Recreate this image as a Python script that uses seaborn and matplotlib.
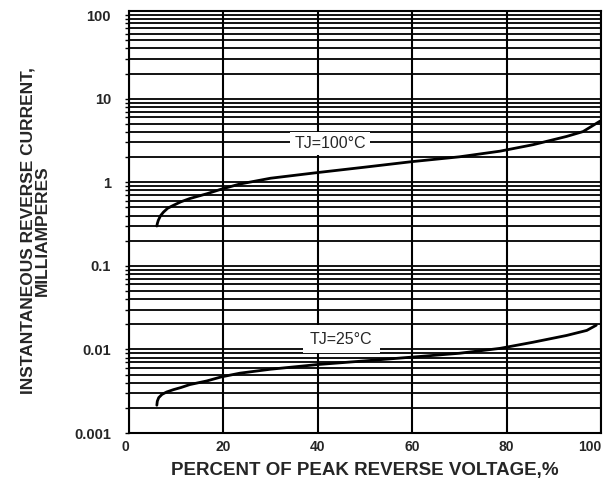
import numpy as np
import pandas as pd
import seaborn as sns
import matplotlib
matplotlib.use("Agg")
import matplotlib.pyplot as plt
from matplotlib.ticker import FixedLocator, FixedFormatter, LogLocator, NullFormatter

# Reverse leakage current vs. percent of peak reverse voltage
pct_100c = [5.9, 6.0, 6.2, 6.7, 7.3, 8.2, 9.4, 11, 12.9, 16.5, 19.6, 23.5, 30, 40, 50, 60, 70, 78.6, 85.6, 92.7, 96.2, 99.8]
ma_100c = [0.30, 0.32, 0.35, 0.40, 0.44, 0.49, 0.53, 0.585, 0.64, 0.73, 0.83, 0.955, 1.12, 1.31, 1.52, 1.77, 2.02, 2.36, 2.82, 3.54, 4.05, 5.4]

pct_25c = [5.9, 6.0, 6.3, 7.0, 8.0, 9.4, 11, 12.9, 16.5, 19.6, 23.5, 30, 40, 50, 60, 70, 78.6, 85.6, 92.7, 97, 99]
ma_25c = [0.00215, 0.0024, 0.00265, 0.0029, 0.0031, 0.0033, 0.0035, 0.0038, 0.0042, 0.0047, 0.0052, 0.0058, 0.0066, 0.0073, 0.0081, 0.0090, 0.0103, 0.0122, 0.0147, 0.0169, 0.0195]

x_ticks = [0, 20, 40, 60, 80, 100]
x_tick_labels = ["0", "20", "40", "60", "80", "100"]
y_ticks = [0.001, 0.01, 0.1, 1, 10, 100]
y_tick_labels = ["0.001", "0.01", "0.1", "1", "10", "100"]

label_100c = "TJ=100°C"
label_25c = "TJ=25°C"

sns.set_theme(style="white")
plt.rcParams["font.family"] = ["Liberation Sans", "DejaVu Sans"]

fig = plt.figure(figsize=(6.11, 4.83), dpi=100)
ax = fig.add_axes([0.2111, 0.1035, 0.7725, 0.8735])

df = pd.concat([
    pd.DataFrame({"pct": pct_100c, "ma": ma_100c, "tj": "100"}),
    pd.DataFrame({"pct": pct_25c, "ma": ma_25c, "tj": "25"}),
])
sns.lineplot(data=df, x="pct", y="ma", units="tj", estimator=None,
             color="black", lw=2.0, ax=ax, sort=False)

ax.set_yscale("log")
ax.set_xlim(0, 100)
ax.set_ylim(0.001, 112)

ax.xaxis.set_major_locator(FixedLocator(x_ticks))
ax.xaxis.set_major_formatter(FixedFormatter(x_tick_labels))
ax.yaxis.set_major_locator(FixedLocator(y_ticks))
ax.yaxis.set_major_formatter(FixedFormatter(y_tick_labels))
ax.yaxis.set_minor_locator(LogLocator(base=10, subs=np.arange(2, 10)))
ax.yaxis.set_minor_formatter(NullFormatter())

ax.grid(True, which="both", axis="y", color="black", lw=1.3)
ax.grid(True, which="major", axis="x", color="black", lw=1.5)
ax.set_axisbelow(True)

for s in ax.spines.values():
    s.set_color("black")
    s.set_linewidth(1.5)

ax.tick_params(axis="x", length=0, pad=5, labelsize=10)
ax.tick_params(axis="y", which="major", length=3, width=1, color="black",
               left=True, pad=10, labelsize=10.5)
ax.tick_params(axis="y", which="minor", length=3, width=1, color="black", left=True)
for lbl in ax.get_xticklabels() + ax.get_yticklabels():
    lbl.set_fontweight("bold")
ax.get_xticklabels()[-1].set_horizontalalignment("right")
ax.get_xticklabels()[0].set_horizontalalignment("right")

ax.set_xlabel("PERCENT OF PEAK REVERSE VOLTAGE,%", fontsize=13.5,
              fontweight="bold", labelpad=6)
ax.set_ylabel("INSTANTANEOUS REVERSE CURRENT,\nMILLIAMPERES", fontsize=12.5,
              fontweight="bold", linespacing=1.0)
ax.yaxis.set_label_coords(-0.167, 0.48)

box = dict(facecolor="white", edgecolor="none", pad=3)
ax.text(42.6, 2.9, label_100c, ha="center", va="center", fontsize=11.5,
        bbox=box, zorder=5)
ax.text(45, 0.0133, label_25c, ha="center", va="center", fontsize=11.5,
        bbox=dict(facecolor="white", edgecolor="none", pad=5), zorder=5)

if ax.get_legend():
    ax.get_legend().remove()

fig.savefig("out.png", dpi=100)
